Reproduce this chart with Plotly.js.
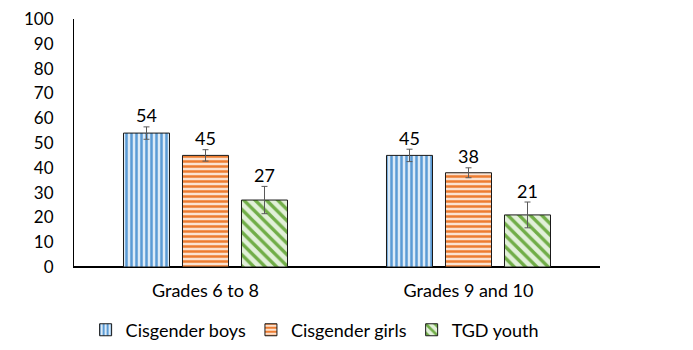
<!DOCTYPE html>
<html>
<head>
<meta charset="utf-8">
<script src="https://cdn.plot.ly/plotly-3.0.1.min.js"></script>
<style>html,body{margin:0;padding:0;background:#fff;}#chart{width:693px;height:350px;}</style>
</head>
<body>
<div id="chart"></div>
<script>
var categories = ["Grades 6 to 8", "Grades 9 and 10"];
var seriesNames = ["Cisgender boys", "Cisgender girls", "TGD youth"];
var boys = [54, 45];
var girls = [45, 38];
var tgd = [27, 21];
var boysErr = [2.5, 2.5];
var girlsErr = [2.3, 2.0];
var tgdErr = [5.5, 5.2];
var yTicks = [0, 10, 20, 30, 40, 50, 60, 70, 80, 90, 100];

var values = [boys, girls, tgd];
var errs = [boysErr, girlsErr, tgdErr];
var fg = ["#5B9BD5", "#ED7D31", "#70AD47"];
var bg = ["#DDEBF7", "#FBE2D0", "#E2F0D9"];
var shapes = ["|", "-", "\\"];
var sizes = [5, 5, 8];
var sol = [0.5, 0.5, 0.42];
var FONT = "Lato, 'Open Sans', sans-serif";

var traces = [];
for (var i = 0; i < 3; i++) {
  traces.push({
    type: "bar", name: seriesNames[i], x: categories, y: values[i],
    offsetgroup: String(i),
    marker: {
      color: bg[i],
      line: {color: "#1a1a1a", width: 1},
      pattern: {shape: shapes[i], fgcolor: fg[i], bgcolor: bg[i], size: sizes[i], solidity: sol[i], fillmode: "overlay", fgopacity: 1}
    },
    error_y: {type: "data", array: errs[i], visible: true, color: "#595959", thickness: 1, width: 3},
    hoverinfo: "skip"
  });
}
for (var j = 0; j < 3; j++) {
  traces.push({
    type: "scatter", mode: "text", x: categories,
    y: values[j].map(function (v, k) { return v + errs[j][k]; }),
    text: values[j].map(String), textposition: "top center",
    textfont: {family: FONT, size: 18, color: "#000"},
    offsetgroup: String(j), showlegend: false, hoverinfo: "skip", cliponaxis: false
  });
}

var layout = {
  width: 693, height: 350,
  margin: {l: 74, r: 93, t: 19, b: 83, autoexpand: false},
  paper_bgcolor: "#fff", plot_bgcolor: "#fff",
  barmode: "group", bargap: 0.327, bargroupgap: 0.22,
  scattermode: "group", scattergap: 0.327,
  font: {family: FONT, size: 18, color: "#000"},
  xaxis: {
    type: "category", showline: true, linecolor: "#000", linewidth: 1.3,
    ticks: "", tickfont: {family: FONT, size: 18, color: "#000"}, fixedrange: true,
    ticklabelstandoff: 7, automargin: false
  },
  yaxis: {
    range: [0, 100], tickvals: yTicks, showgrid: false,
    zeroline: true, zerolinecolor: "#000", zerolinewidth: 1.3,
    showline: true, linecolor: "#000", linewidth: 1, ticks: "", ticklen: 0,
    tickfont: {family: FONT, size: 17, color: "#000"}, fixedrange: true,
    ticklabelstandoff: 16, automargin: false
  },
  showlegend: true,
  legend: {orientation: "h", xref: "container", x: 0.454, xanchor: "center",
    yref: "container", y: 0.057, yanchor: "middle",
    font: {family: FONT, size: 18, color: "#000"}, traceorder: "normal"}
};

Plotly.newPlot("chart", traces, layout, {staticPlot: true, displayModeBar: false});
</script>
</body>
</html>
